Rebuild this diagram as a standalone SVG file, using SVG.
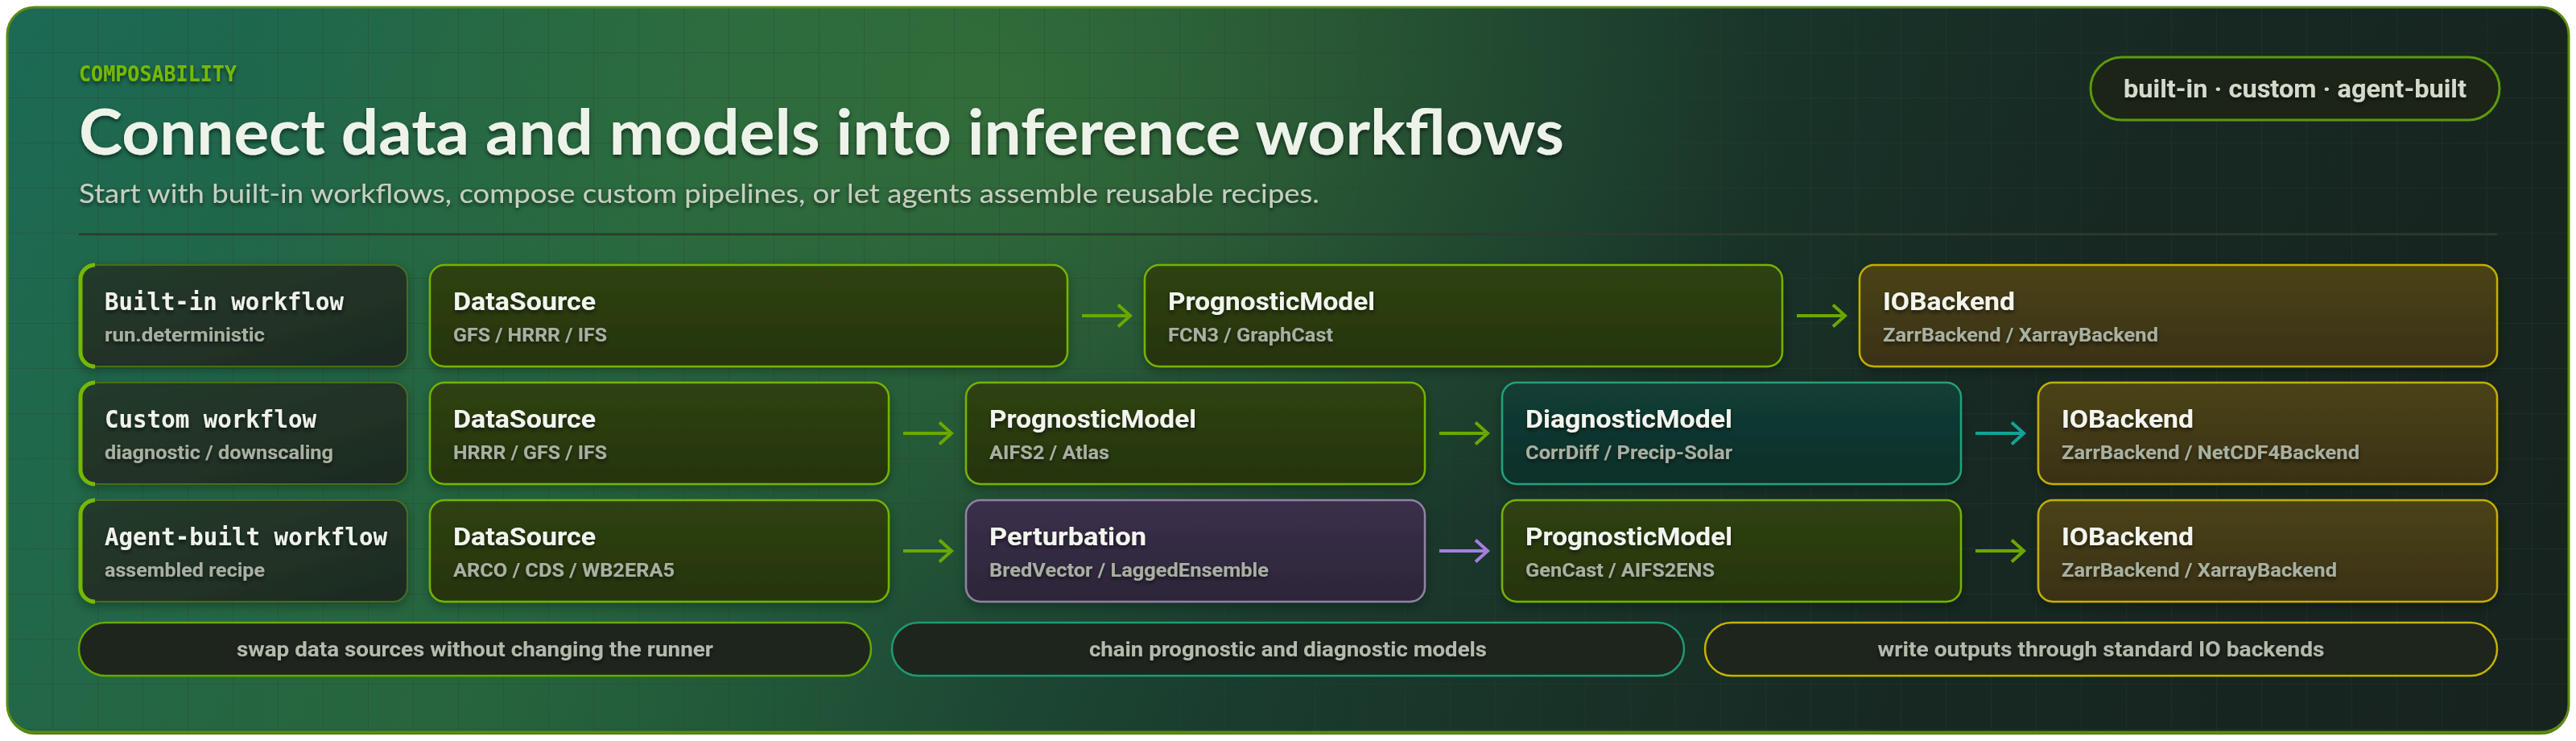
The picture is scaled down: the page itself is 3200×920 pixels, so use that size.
<svg xmlns="http://www.w3.org/2000/svg" width="3200" height="920" viewBox="0 0 3200 920">
<defs>
<style>
.mono{font-family:"DejaVu Sans Mono","Liberation Mono",monospace;}
.eyebrow{font-size:26px;font-weight:700;fill:#76b900;}
.h1{font-family:Lato,"Liberation Sans",sans-serif;font-weight:700;font-size:78px;fill:#eef3ea;}
.lede{font-family:Lato,"Liberation Sans",sans-serif;font-weight:400;font-size:32px;fill:#c6cfc0;}
.lbl{font-family:"DejaVu Sans Mono","Liberation Mono",monospace;font-weight:700;font-size:30px;fill:#eef2ea;}
.nt{font-family:Roboto,"Liberation Sans",sans-serif;font-weight:700;font-size:31px;fill:#f2f5ee;}
.ns{font-family:Roboto,"Liberation Sans",sans-serif;font-weight:700;font-size:23px;fill:#a8b0a1;}
.pt{font-family:Roboto,"Liberation Sans",sans-serif;font-weight:700;font-size:25px;fill:#b2baab;text-anchor:middle;}
.chip{font-family:Roboto,"Liberation Sans",sans-serif;font-weight:700;font-size:32px;fill:#d2dacb;text-anchor:middle;}
.sh{filter:url(#tshadow);}
.n-lbl{fill:url(#g-lbl);stroke:#4a6d1c;stroke-width:2;}
.n-lime{fill:url(#g-lime);stroke:#74b300;stroke-width:2.5;}
.n-io{fill:url(#g-io);stroke:#c2b000;stroke-width:2.5;}
.n-diag{fill:url(#g-diag);stroke:#23a07c;stroke-width:2.5;}
.n-pert{fill:url(#g-pert);stroke:#8f82a2;stroke-width:2.5;}
.accent{fill:none;stroke:#76b900;stroke-width:5;}
.pill{fill:#1e251d;stroke-width:2.5;}
.c-lime{stroke:#6aa800;stroke-width:4;fill:none;}
.c-teal{stroke:#17a096;stroke-width:4;fill:none;}
.c-purple{stroke:#a57ee0;stroke-width:4;fill:none;}
.box{filter:url(#bshadow);}
</style>
<linearGradient id="g-bg" x1="0" y1="0" x2="3200" y2="1400" gradientUnits="userSpaceOnUse">
<stop offset="0" stop-color="#1c6a55"/>
<stop offset="0.25" stop-color="#22623f"/>
<stop offset="0.5" stop-color="#1a3c2e"/>
<stop offset="0.72" stop-color="#172822"/>
<stop offset="1" stop-color="#17211e"/>
</linearGradient>
<radialGradient id="g-glow1" cx="1250" cy="120" r="950" gradientUnits="userSpaceOnUse" gradientTransform="translate(1250 120) scale(1 0.7) translate(-1250 -120)">
<stop offset="0" stop-color="#3f7d3a" stop-opacity="0.6"/>
<stop offset="1" stop-color="#3f7d3a" stop-opacity="0"/>
</radialGradient>
<radialGradient id="g-glow2" cx="450" cy="860" r="800" gradientUnits="userSpaceOnUse">
<stop offset="0" stop-color="#2d6a3a" stop-opacity="0.45"/>
<stop offset="1" stop-color="#2d6a3a" stop-opacity="0"/>
</radialGradient>
<pattern id="grid" x="10" y="10" width="56" height="56" patternUnits="userSpaceOnUse">
<path d="M56 0V56M0 56H56" fill="none" stroke="#2c4030" stroke-opacity="0.45" stroke-width="1.5"/>
</pattern>
<clipPath id="panelclip"><rect x="9" y="9" width="3182" height="900" rx="34"/></clipPath>
<linearGradient id="g-lbl" x1="0" y1="0" x2="1" y2="1">
<stop offset="0" stop-color="#243b2a"/>
<stop offset="1" stop-color="#1e2a21"/>
</linearGradient>
<linearGradient id="g-lime" x1="0" y1="0" x2="0" y2="1">
<stop offset="0" stop-color="#2f4212"/>
<stop offset="1" stop-color="#25340e"/>
</linearGradient>
<linearGradient id="g-io" x1="0" y1="0" x2="0" y2="1">
<stop offset="0" stop-color="#4a4318"/>
<stop offset="1" stop-color="#3a3113"/>
</linearGradient>
<linearGradient id="g-diag" x1="0" y1="0" x2="0" y2="1">
<stop offset="0" stop-color="#123e36"/>
<stop offset="1" stop-color="#0f2f2a"/>
</linearGradient>
<linearGradient id="g-pert" x1="0" y1="0" x2="0" y2="1">
<stop offset="0" stop-color="#3b2f4c"/>
<stop offset="1" stop-color="#2d2638"/>
</linearGradient>
<filter id="tshadow" x="-10%" y="-40%" width="120%" height="180%">
<feDropShadow dx="0" dy="3" stdDeviation="2.5" flood-color="#000" flood-opacity="0.55"/>
</filter>
<filter id="bshadow" x="-10%" y="-20%" width="120%" height="150%">
<feDropShadow dx="0" dy="5" stdDeviation="7" flood-color="#000" flood-opacity="0.3"/>
</filter>
<marker id="ah-lime" viewBox="0 0 20 30" refX="17" refY="15" markerWidth="20" markerHeight="30" markerUnits="userSpaceOnUse" orient="auto">
<path d="M2,1.5L17,15L2,28.5" fill="none" stroke="#6aa800" stroke-width="4"/>
</marker>
<marker id="ah-teal" viewBox="0 0 20 30" refX="17" refY="15" markerWidth="20" markerHeight="30" markerUnits="userSpaceOnUse" orient="auto">
<path d="M2,1.5L17,15L2,28.5" fill="none" stroke="#17a096" stroke-width="4"/>
</marker>
<marker id="ah-purple" viewBox="0 0 20 30" refX="17" refY="15" markerWidth="20" markerHeight="30" markerUnits="userSpaceOnUse" orient="auto">
<path d="M2,1.5L17,15L2,28.5" fill="none" stroke="#a57ee0" stroke-width="4"/>
</marker>
</defs>

<rect x="0" y="0" width="3200" height="920" fill="#ffffff"/>

<g id="panel">
<rect x="9" y="12" width="3182" height="900" rx="34" fill="#4f7d0e"/>
<rect x="9" y="9" width="3182" height="900" rx="34" fill="url(#g-bg)"/>
<g clip-path="url(#panelclip)">
<rect x="9" y="9" width="3182" height="900" fill="url(#g-glow1)"/>
<rect x="9" y="9" width="3182" height="900" fill="url(#g-glow2)"/>
<rect x="9" y="9" width="3182" height="900" fill="url(#grid)"/>
</g>
<rect x="9" y="9" width="3182" height="900" rx="34" fill="none" stroke="#5b8c12" stroke-width="3"/>
</g>

<g id="header">
<text class="mono eyebrow sh" x="98" y="101" textLength="196" lengthAdjust="spacingAndGlyphs">COMPOSABILITY</text>
<text class="h1 sh" x="98" y="192" textLength="1845" lengthAdjust="spacingAndGlyphs">Connect data and models into inference workflows</text>
<text class="lede sh" x="98" y="252" textLength="1541" lengthAdjust="spacingAndGlyphs">Start with built-in workflows, compose custom pipelines, or let agents assemble reusable recipes.</text>
<line x1="98" y1="291" x2="3102" y2="291" stroke="#2f3a2d" stroke-width="2.5"/>
</g>

<g id="chip-modes">
<rect x="2597" y="71" width="508" height="78" rx="39" fill="#1c2418" stroke="#5e9a0c" stroke-width="3"/>
<text class="chip sh" x="2851" y="121" textLength="426" lengthAdjust="spacingAndGlyphs">built-in · custom · agent-built</text>
</g>

<!-- Row 1 -->
<g id="wf-builtin" class="box">
<rect class="n-lbl" x="100" y="329" width="406" height="126" rx="18"/>
<path class="accent" d="M118,329A18,18 0 0 0 100,347V437A18,18 0 0 0 118,455"/>
<text class="lbl sh" x="130" y="385" textLength="297" lengthAdjust="spacingAndGlyphs">Built-in workflow</text>
<text class="ns sh" x="130" y="424" textLength="199" lengthAdjust="spacingAndGlyphs">run.deterministic</text>
</g>
<g id="r1-datasource" class="box">
<rect class="n-lime" x="534" y="329" width="792" height="126" rx="18"/>
<text class="nt sh" x="563" y="385" textLength="177" lengthAdjust="spacingAndGlyphs">DataSource</text>
<text class="ns sh" x="563" y="424" textLength="191" lengthAdjust="spacingAndGlyphs">GFS / HRRR / IFS</text>
</g>
<g id="r1-prognostic" class="box">
<rect class="n-lime" x="1422" y="329" width="792" height="126" rx="18"/>
<text class="nt sh" x="1451" y="385" textLength="257" lengthAdjust="spacingAndGlyphs">PrognosticModel</text>
<text class="ns sh" x="1451" y="424" textLength="205" lengthAdjust="spacingAndGlyphs">FCN3 / GraphCast</text>
</g>
<g id="r1-io" class="box">
<rect class="n-io" x="2310" y="329" width="792" height="126" rx="18"/>
<text class="nt sh" x="2339" y="385" textLength="164" lengthAdjust="spacingAndGlyphs">IOBackend</text>
<text class="ns sh" x="2339" y="424" textLength="342" lengthAdjust="spacingAndGlyphs">ZarrBackend / XarrayBackend</text>
</g>

<!-- Row 2 -->
<g id="wf-custom" class="box">
<rect class="n-lbl" x="100" y="475" width="406" height="126" rx="18"/>
<path class="accent" d="M118,475A18,18 0 0 0 100,493V583A18,18 0 0 0 118,601"/>
<text class="lbl sh" x="130" y="531" textLength="263" lengthAdjust="spacingAndGlyphs">Custom workflow</text>
<text class="ns sh" x="130" y="570" textLength="284" lengthAdjust="spacingAndGlyphs">diagnostic / downscaling</text>
</g>
<g id="r2-datasource" class="box">
<rect class="n-lime" x="534" y="475" width="570" height="126" rx="18"/>
<text class="nt sh" x="563" y="531" textLength="177" lengthAdjust="spacingAndGlyphs">DataSource</text>
<text class="ns sh" x="563" y="570" textLength="191" lengthAdjust="spacingAndGlyphs">HRRR / GFS / IFS</text>
</g>
<g id="r2-prognostic" class="box">
<rect class="n-lime" x="1200" y="475" width="570" height="126" rx="18"/>
<text class="nt sh" x="1229" y="531" textLength="257" lengthAdjust="spacingAndGlyphs">PrognosticModel</text>
<text class="ns sh" x="1229" y="570" textLength="149" lengthAdjust="spacingAndGlyphs">AIFS2 / Atlas</text>
</g>
<g id="r2-diagnostic" class="box">
<rect class="n-diag" x="1866" y="475" width="570" height="126" rx="18"/>
<text class="nt sh" x="1895" y="531" textLength="257" lengthAdjust="spacingAndGlyphs">DiagnosticModel</text>
<text class="ns sh" x="1895" y="570" textLength="257" lengthAdjust="spacingAndGlyphs">CorrDiff / Precip-Solar</text>
</g>
<g id="r2-io" class="box">
<rect class="n-io" x="2532" y="475" width="570" height="126" rx="18"/>
<text class="nt sh" x="2561" y="531" textLength="164" lengthAdjust="spacingAndGlyphs">IOBackend</text>
<text class="ns sh" x="2561" y="570" textLength="370" lengthAdjust="spacingAndGlyphs">ZarrBackend / NetCDF4Backend</text>
</g>

<!-- Row 3 -->
<g id="wf-agent" class="box">
<rect class="n-lbl" x="100" y="621" width="406" height="126" rx="18"/>
<path class="accent" d="M118,621A18,18 0 0 0 100,639V729A18,18 0 0 0 118,747"/>
<text class="lbl sh" x="130" y="677" textLength="351" lengthAdjust="spacingAndGlyphs">Agent-built workflow</text>
<text class="ns sh" x="130" y="716" textLength="199" lengthAdjust="spacingAndGlyphs">assembled recipe</text>
</g>
<g id="r3-datasource" class="box">
<rect class="n-lime" x="534" y="621" width="570" height="126" rx="18"/>
<text class="nt sh" x="563" y="677" textLength="177" lengthAdjust="spacingAndGlyphs">DataSource</text>
<text class="ns sh" x="563" y="716" textLength="275" lengthAdjust="spacingAndGlyphs">ARCO / CDS / WB2ERA5</text>
</g>
<g id="r3-perturbation" class="box">
<rect class="n-pert" x="1200" y="621" width="570" height="126" rx="18"/>
<text class="nt sh" x="1229" y="677" textLength="195" lengthAdjust="spacingAndGlyphs">Perturbation</text>
<text class="ns sh" x="1229" y="716" textLength="347" lengthAdjust="spacingAndGlyphs">BredVector / LaggedEnsemble</text>
</g>
<g id="r3-prognostic" class="box">
<rect class="n-lime" x="1866" y="621" width="570" height="126" rx="18"/>
<text class="nt sh" x="1895" y="677" textLength="257" lengthAdjust="spacingAndGlyphs">PrognosticModel</text>
<text class="ns sh" x="1895" y="716" textLength="235" lengthAdjust="spacingAndGlyphs">GenCast / AIFS2ENS</text>
</g>
<g id="r3-io" class="box">
<rect class="n-io" x="2532" y="621" width="570" height="126" rx="18"/>
<text class="nt sh" x="2561" y="677" textLength="164" lengthAdjust="spacingAndGlyphs">IOBackend</text>
<text class="ns sh" x="2561" y="716" textLength="342" lengthAdjust="spacingAndGlyphs">ZarrBackend / XarrayBackend</text>
</g>

<g id="connectors">
<path class="c-lime" d="M1344,392H1404" marker-end="url(#ah-lime)"/>
<path class="c-lime" d="M2232,392H2292" marker-end="url(#ah-lime)"/>
<path class="c-lime" d="M1122,538H1182" marker-end="url(#ah-lime)"/>
<path class="c-lime" d="M1788,538H1848" marker-end="url(#ah-lime)"/>
<path class="c-teal" d="M2454,538H2514" marker-end="url(#ah-teal)"/>
<path class="c-lime" d="M1122,684H1182" marker-end="url(#ah-lime)"/>
<path class="c-purple" d="M1788,684H1848" marker-end="url(#ah-purple)"/>
<path class="c-lime" d="M2454,684H2514" marker-end="url(#ah-lime)"/>
</g>

<g id="note-datasources">
<rect class="pill" x="98" y="773" width="984" height="66" rx="33" stroke="#6aa800"/>
<text class="pt sh" x="590" y="815" textLength="592" lengthAdjust="spacingAndGlyphs">swap data sources without changing the runner</text>
</g>
<g id="note-chain">
<rect class="pill" x="1108" y="773" width="984" height="66" rx="33" stroke="#1f9a78"/>
<text class="pt sh" x="1600" y="815" textLength="494" lengthAdjust="spacingAndGlyphs">chain prognostic and diagnostic models</text>
</g>
<g id="note-io">
<rect class="pill" x="2118" y="773" width="984" height="66" rx="33" stroke="#c6b400"/>
<text class="pt sh" x="2610" y="815" textLength="555" lengthAdjust="spacingAndGlyphs">write outputs through standard IO backends</text>
</g>
</svg>
